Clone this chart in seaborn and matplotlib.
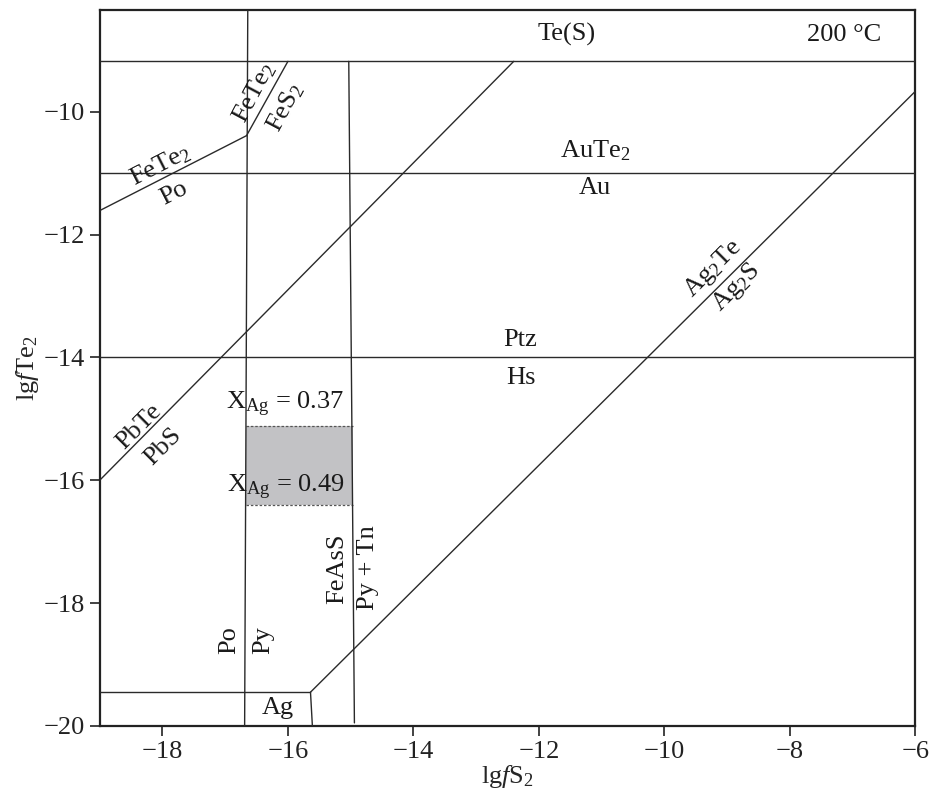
import numpy as np
import pandas as pd
import matplotlib
matplotlib.use("Agg")
import matplotlib.pyplot as plt
import seaborn as sns

# boundary lines in (lg fS2, lg fTe2) coordinates
te_s_x = [-19, -6]
te_s_y = [-9.18, -9.18]
aute2_x = [-19, -6]
aute2_y = [-11.0, -11.0]
ptz_hs_x = [-19, -6]
ptz_hs_y = [-14.0, -14.0]
po_py_x = [-16.64, -16.69]
po_py_y = [-8.35, -20.0]
feass_x = [-15.03, -14.94]
feass_y = [-9.18, -19.95]
fete2_po_x = [-19, -16.66]
fete2_po_y = [-11.61, -10.39]
fete2_fes2_x = [-16.66, -16.0]
fete2_fes2_y = [-10.39, -9.18]
pbte_x = [-19, -12.40]
pbte_y = [-16.0, -9.18]
ag2te_x = [-15.64, -6]
ag2te_y = [-19.45, -9.67]
ag_top_x = [-19, -15.64]
ag_top_y = [-19.45, -19.45]
ag_side_x = [-15.64, -15.61]
ag_side_y = [-19.45, -20.0]

# X_Ag field (shaded)
xag_x = [-16.67, -14.97]
xag_low = -16.41
xag_high = -15.11

sns.set_theme(style="ticks")
plt.rcParams["font.family"] = ["Liberation Serif", "DejaVu Serif"]
plt.rcParams["mathtext.fontset"] = "custom"
plt.rcParams["mathtext.rm"] = "Liberation Serif"
plt.rcParams["mathtext.it"] = "Liberation Serif:italic"

segs = {
    "te_s": (te_s_x, te_s_y),
    "aute2": (aute2_x, aute2_y),
    "ptz_hs": (ptz_hs_x, ptz_hs_y),
    "po_py": (po_py_x, po_py_y),
    "feass": (feass_x, feass_y),
    "fete2_po": (fete2_po_x, fete2_po_y),
    "fete2_fes2": (fete2_fes2_x, fete2_fes2_y),
    "pbte": (pbte_x, pbte_y),
    "ag2te": (ag2te_x, ag2te_y),
    "ag_top": (ag_top_x, ag_top_y),
    "ag_side": (ag_side_x, ag_side_y),
}
rows = []
for name, (xs, ys) in segs.items():
    for x, y in zip(xs, ys):
        rows.append({"seg": name, "x": x, "y": y})
df = pd.DataFrame(rows)

fig = plt.figure(figsize=(9.32, 7.96), dpi=100)
ax = fig.add_axes([0.107, 0.088, 0.875, 0.899])

ax.fill_between(xag_x, xag_low, xag_high, color="#c2c2c5", lw=0, zorder=1)
for yy in (xag_low, xag_high):
    ax.plot(xag_x, [yy, yy], ls=(0, (2, 1.5)), color="#555555", lw=0.9, zorder=2)

sns.lineplot(data=df, x="x", y="y", units="seg", estimator=None, sort=False,
             color="#2a2a2a", lw=1.0, legend=False, ax=ax, zorder=3)

ax.set_xlim(-19, -6)
ax.set_ylim(-20, -8.35)
ax.set_xticks([-18, -16, -14, -12, -10, -8, -6])
ax.set_yticks([-20, -18, -16, -14, -12, -10])
ax.tick_params(direction="out", length=7, width=1.2, labelsize=19, colors="#222222")
for sp in ax.spines.values():
    sp.set_linewidth(1.6)
    sp.set_color("#222222")
    sp.set_visible(True)

ax.set_xlabel(r"lg$\it{f}$S$_2$", fontsize=19, labelpad=0)
ax.set_ylabel(r"lg$\it{f}$Te$_2$", fontsize=19, labelpad=2)

fs = 19
def label(x, y, s, rot=0):
    ax.text(x, y, s, fontsize=fs, ha="center", va="center", rotation=rot,
            rotation_mode="anchor", color="#1a1a1a", zorder=4)

label(-11.56, -8.75, "Te(S)")
label(-7.14, -8.75, "200 °C")
label(-11.10, -10.63, r"AuTe$_2$")
label(-11.10, -11.25, "Au")
label(-12.29, -13.72, "Ptz")
label(-12.29, -14.34, "Hs")
label(-18.04, -10.87, r"FeTe$_2$", 27)
label(-17.82, -11.33, "Po", 27)
label(-16.53, -9.69, r"FeTe$_2$", 62)
label(-16.05, -9.93, r"FeS$_2$", 62)
label(-18.38, -15.13, "PbTe", 45)
label(-17.99, -15.45, "PbS", 45)
label(-9.23, -12.55, r"Ag$_2$Te", 45)
label(-8.85, -12.87, r"Ag$_2$S", 45)
label(-16.04, -14.77, r"X$_\mathrm{Ag}$ = 0.37")
label(-16.04, -16.12, r"X$_\mathrm{Ag}$ = 0.49")
label(-16.94, -18.60, "Po", 90)
label(-16.40, -18.60, "Py", 90)
label(-15.21, -17.44, "FeAsS", 90)
label(-14.73, -17.43, "Py + Tn", 90)
label(-16.16, -19.70, "Ag")

fig.savefig("out.png", dpi=100)
